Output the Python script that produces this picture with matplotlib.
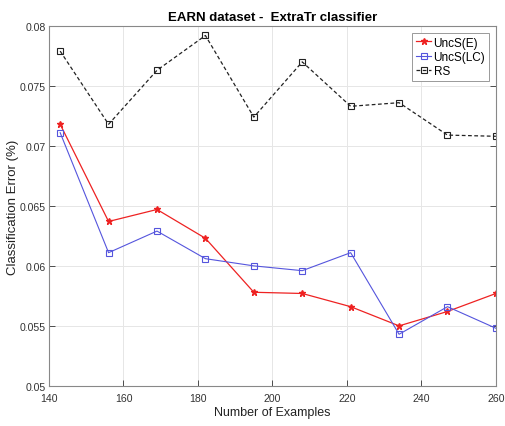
import matplotlib
matplotlib.use("Agg")
import matplotlib.pyplot as plt
import numpy as np

plt.rcParams['font.family'] = ['Liberation Sans', 'DejaVu Sans']

examples = [143, 156, 169, 182, 195, 208, 221, 234, 247, 260]
uncs_e = [0.0718, 0.0637, 0.0647, 0.0623, 0.0578, 0.0577, 0.0566, 0.0550, 0.0562, 0.0577]
uncs_lc = [0.0711, 0.0611, 0.0629, 0.0606, 0.0600, 0.0596, 0.0611, 0.0543, 0.0566, 0.0548]
rs = [0.0779, 0.0718, 0.0763, 0.0792, 0.0724, 0.0770, 0.0733, 0.0736, 0.0709, 0.0708]

x_ticks = [140, 160, 180, 200, 220, 240, 260]
y_ticks = [0.05, 0.055, 0.06, 0.065, 0.07, 0.075, 0.08]
y_tick_labels = ['0.05', '0.055', '0.06', '0.065', '0.07', '0.075', '0.08']

fig = plt.figure(figsize=(5.05, 4.27), dpi=100)
ax = fig.add_axes([0.097, 0.094, 0.885, 0.843])

ax.plot(examples, uncs_e, color='#ee2222', linestyle='-', linewidth=0.9,
        marker='*', markersize=5, label='UncS(E)')
ax.plot(examples, uncs_lc, color='#5555dd', linestyle='-', linewidth=0.8,
        marker='s', markersize=4.5, markerfacecolor='none', markeredgewidth=0.8,
        label='UncS(LC)')
ax.plot(examples, rs, color='#222222', linestyle=(0, (3, 2)), linewidth=0.9,
        marker='s', markersize=4.5, markerfacecolor='none', markeredgewidth=0.8,
        label='RS')

ax.set_xlim(140, 260)
ax.set_ylim(0.05, 0.08)
ax.set_xticks(x_ticks)
ax.set_yticks(y_ticks)
ax.set_yticklabels(y_tick_labels)
ax.tick_params(direction='in', length=4, width=0.6, labelsize=7.6,
               colors='#333333', top=False, right=True)
ax.tick_params(axis='y', pad=2)
ax.tick_params(axis='x', pad=5)
ax.grid(True, color='#e6e6e6', linewidth=0.7)
for s in ax.spines.values():
    s.set_color('#888888')
    s.set_linewidth(0.8)

ax.set_title('EARN dataset -  ExtraTr classifier', fontsize=9.5,
             fontweight='bold', pad=4)
ax.set_xlabel('Number of Examples', fontsize=9, color='#222222', labelpad=2)
ax.set_ylabel('Classification Error (%)', fontsize=9.5, color='#222222')
ax.yaxis.set_label_coords(-0.068, 0.5)

leg = ax.legend(loc='upper right', fontsize=8.5, handlelength=1.3,
                handletextpad=0.2, borderpad=0.3, labelspacing=0.2,
                fancybox=False, framealpha=1, borderaxespad=0.6)
leg.get_frame().set_edgecolor('#999999')
leg.get_frame().set_linewidth(0.7)

fig.savefig('out.png', dpi=100)
